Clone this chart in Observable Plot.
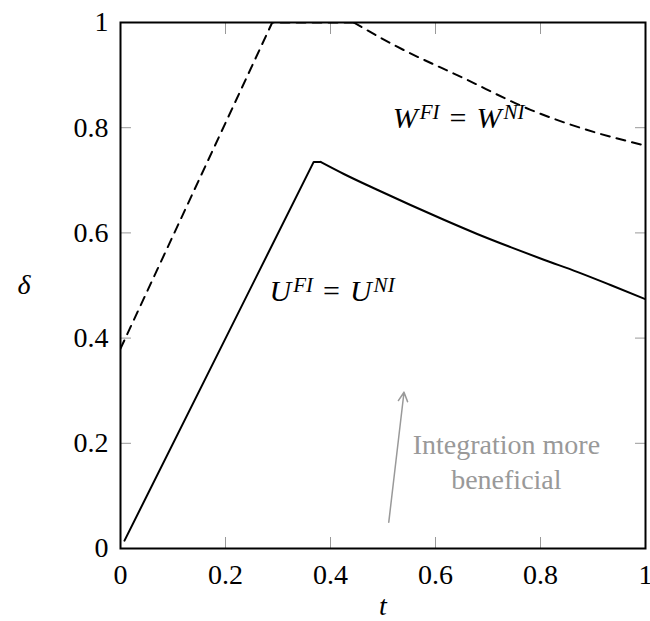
<!DOCTYPE html>
<html><head><meta charset="utf-8">
<script src="https://cdn.jsdelivr.net/npm/d3@7"></script>
<script src="https://cdn.jsdelivr.net/npm/@observablehq/plot@0.6"></script>
<style>
body{margin:0;background:#fff;}
svg{display:block}
svg, svg text, svg tspan { font-family: "Liberation Serif", "Times New Roman", Times, serif !important; }
</style>
</head><body><div id="chart"></div>
<script>
// Solid curve U^FI = U^NI (rising part ends at the plateau, falling part starts there)
const uT = [0.0076, 0.368, 0.381, 0.4254, 0.4889, 0.5524, 0.6159, 0.6794, 0.7429, 0.8063, 0.8698, 0.9333, 1.0];
const uD = [0.015, 0.735, 0.735, 0.712, 0.682, 0.653, 0.625, 0.598, 0.573, 0.549, 0.526, 0.501, 0.474];
// Dashed curve W^FI = W^NI
const wT = [0.0, 0.289, 0.444, 0.527, 0.654, 0.781, 0.908, 1.0];
const wD = [0.38, 1.0, 1.0, 0.954, 0.894, 0.834, 0.790, 0.766];

const xTicks = [0, 0.2, 0.4, 0.6, 0.8, 1];
const yTicks = [0, 0.2, 0.4, 0.6, 0.8, 1];
const xLabel = "t";
const yLabel = "δ";

const curveLabels = ["W^FI = W^NI", "U^FI = U^NI"];
const curveLabelT = [0.644, 0.403];
const curveLabelD = [0.8175, 0.4896];

const noteText = ["Integration more\nbeneficial"];
const noteT = [0.735];
const noteD = [0.167];

const arrowT1 = [0.511], arrowD1 = [0.05], arrowT2 = [0.540], arrowD2 = [0.297];

const uData = uT.map((t, i) => ({t, d: uD[i]}));
const uRise = uData.slice(0, 3);
const uFall = uData.slice(2);
const wData = wT.map((t, i) => ({t, d: wD[i]}));
const wRise = wData.slice(0, 3);
const wFall = wData.slice(2);
const labData = curveLabels.map((s, i) => ({s, t: curveLabelT[i], d: curveLabelD[i]}));
const noteData = noteText.map((s, i) => ({s, t: noteT[i], d: noteD[i]}));
const arrowData = arrowT1.map((t, i) => ({t1: t, d1: arrowD1[i], t2: arrowT2[i], d2: arrowD2[i]}));

const FS = 28;
const LFS = 30;
const tickColor = "#999";
const fmt = d => String(d);

const chart = Plot.plot({
  width: 650, height: 621,
  marginLeft: 120, marginRight: 5, marginTop: 22, marginBottom: 73,
  x: {domain: [0, 1], label: null},
  y: {domain: [0, 1], label: null},
  style: {fontFamily: "Liberation Serif, serif", fontSize: FS + "px", background: "white", color: "black"},
  marks: [
    // tick marks (inward, all four sides)
    Plot.axisX(xTicks, {anchor: "bottom", tickSize: 11, dy: -11, tickFormat: () => "", stroke: tickColor, label: null}),
    Plot.axisX(xTicks, {anchor: "top", tickSize: 11, dy: 11, tickFormat: () => "", stroke: tickColor, label: null}),
    Plot.axisY(yTicks, {anchor: "left", tickSize: 11, dx: 11, tickFormat: () => "", stroke: tickColor, label: null}),
    Plot.axisY(yTicks, {anchor: "right", tickSize: 11, dx: -11, tickFormat: () => "", stroke: tickColor, label: null}),
    // tick labels
    Plot.axisX(xTicks, {anchor: "bottom", tickSize: 0, tickPadding: 16, tickFormat: fmt, fontSize: FS, label: null}),
    Plot.axisY(yTicks, {anchor: "left", tickSize: 0, tickPadding: 12, tickFormat: fmt, fontSize: FS, label: null}),
    // curves
    Plot.line(wRise, {x: "t", y: "d", stroke: "black", strokeWidth: 2, strokeDasharray: "9,7", clip: true}),
    Plot.line(wFall, {x: "t", y: "d", stroke: "black", strokeWidth: 2, strokeDasharray: "9,7", curve: "monotone-x", clip: true}),
    Plot.line(uRise, {x: "t", y: "d", stroke: "black", strokeWidth: 2, strokeLinejoin: "round", clip: true}),
    Plot.line(uFall, {x: "t", y: "d", stroke: "black", strokeWidth: 2, curve: "monotone-x", clip: true}),
    // annotation arrow + text
    Plot.arrow(arrowData, {x1: "t1", y1: "d1", x2: "t2", y2: "d2", stroke: "#999", strokeWidth: 1.5, headLength: 10, headAngle: 55}),
    Plot.text(noteData, {x: "t", y: "d", text: "s", fill: "#999", fontSize: FS, lineHeight: 1.25}),
    // curve labels
    Plot.text(labData, {x: "t", y: "d", text: "s", fill: "black", fontSize: LFS}),
    // axis titles
    Plot.text([yLabel], {frameAnchor: "left", dx: -103, fontStyle: "italic", fontSize: FS}),
    Plot.text([xLabel], {frameAnchor: "bottom", dy: 66, fontStyle: "italic", fontSize: FS}),
    Plot.frame({stroke: "black", strokeWidth: 2})
  ]
});

// rich text: superscripts for the curve labels
d3.select(chart).selectAll("text").filter(function() { return this.textContent.includes("^"); }).each(function() {
  const txt = this.textContent;
  const el = d3.select(this);
  el.text(null);
  const parts = txt.split(" = ");
  const sup = Math.round(LFS * 0.7);
  const raise = 9;
  parts.forEach((p, k) => {
    const [base, exp] = p.split("^");
    if (k > 0) {
      el.append("tspan").attr("font-style", "normal").attr("dx", 10).attr("dy", raise).text("=");
      el.append("tspan").attr("dx", 10).attr("font-style", "italic").text(base);
    } else {
      el.append("tspan").attr("font-style", "italic").text(base);
    }
    el.append("tspan").attr("font-style", "italic").attr("font-size", sup).attr("dy", -raise).attr("dx", 2).text(exp);
  });
});

document.getElementById("chart").appendChild(chart);
</script>
</body></html>
